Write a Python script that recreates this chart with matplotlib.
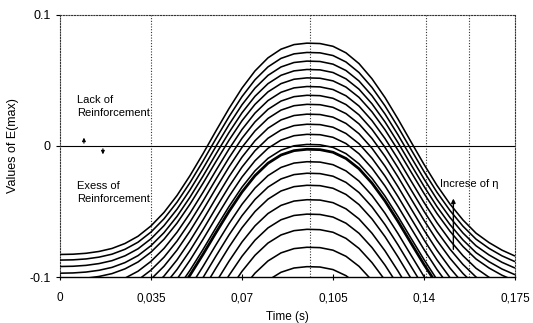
import numpy as np
import matplotlib
matplotlib.use("Agg")
import matplotlib.pyplot as plt

plt.rcParams['font.family'] = ['Liberation Sans', 'DejaVu Sans']

# time samples (s) and the uppermost curve
time = [0.000, 0.005, 0.010, 0.015, 0.020, 0.025, 0.030, 0.035, 0.040,
        0.045, 0.050, 0.055, 0.060, 0.065, 0.070, 0.075, 0.080, 0.085,
        0.090, 0.095, 0.100, 0.105, 0.110, 0.115, 0.120, 0.125, 0.130,
        0.135, 0.140, 0.145, 0.150, 0.155, 0.160, 0.165, 0.170, 0.175]
top_curve = [-0.0828, -0.0826, -0.0819, -0.0805, -0.0782, -0.0744, -0.0689,
             -0.0610, -0.0507, -0.0378, -0.0226, -0.0059, 0.0116, 0.0286,
             0.0442, 0.0573, 0.0673, 0.0739, 0.0774, 0.0785, 0.0782, 0.0761,
             0.0711, 0.0629, 0.0513, 0.0370, 0.0206, 0.0032, -0.0140, -0.0301,
             -0.0443, -0.0565, -0.0665, -0.0737, -0.0795, -0.0840]

# peak value and far-end level of every curve (top to bottom)
peaks = [0.0785, 0.0714, 0.0648, 0.0584, 0.0520, 0.0454, 0.0387, 0.0318,
         0.0243, 0.0166, 0.0089, 0.0012, -0.0025, -0.0120, -0.0208, -0.0300,
         -0.0410, -0.0520, -0.0636, -0.0773, -0.0921]
bases = [-0.0825, -0.0868, -0.0917, -0.0968, -0.1015, -0.1086, -0.1153,
         -0.1222, -0.1297, -0.1369, -0.1441, -0.1518, -0.1555, -0.1645,
         -0.1728, -0.1820, -0.1925, -0.2030, -0.2141, -0.2273, -0.2421]
thick_curve = 12

xticks = [0, 0.035, 0.07, 0.105, 0.14, 0.175]
xticklabels = ['0', '0,035', '0,07', '0,105', '0,14', '0,175']
yticks = [-0.1, 0, 0.1]
yticklabels = ['-0.1', '0', '0.1']
vlines = [0.035, 0.0963, 0.1406, 0.1575]

t = np.array(time)
top = np.array(top_curve)
shape = (top - bases[0]) / (peaks[0] - bases[0])

fig = plt.figure(figsize=(5.33, 3.23), dpi=100)
ax = fig.add_axes([0.1126, 0.1424, 0.8536, 0.8112])

for k, (p, b) in enumerate(zip(peaks, bases)):
    y = b + (p - b) * shape
    ax.plot(t, y, color='black', lw=2.0 if k == thick_curve else 1.15,
            solid_capstyle='butt', zorder=3)

for v in vlines:
    ax.axvline(v, color='#333333', lw=0.8, ls=(0, (1, 1.5)), zorder=1)
ax.axhline(0, color='black', lw=0.8, zorder=2)

ax.set_xlim(0, 0.175)
ax.set_ylim(-0.1, 0.1)
ax.set_xticks(xticks)
ax.set_xticklabels(xticklabels)
ax.set_yticks(yticks)
ax.set_yticklabels(yticklabels)
ax.tick_params(axis='x', direction='inout', length=4, width=0.8, labelsize=8.5, pad=9)
ax.tick_params(axis='y', direction='out', length=3, width=0.8, labelsize=9)

for side in ['top', 'right', 'left']:
    ax.spines[side].set_linestyle((0, (1, 1.5)))
    ax.spines[side].set_linewidth(0.8)
    ax.spines[side].set_color('#333333')
ax.spines['bottom'].set_linewidth(1.0)

ax.set_xlabel('Time (s)', fontsize=8.5, labelpad=5)
ax.set_ylabel('Values of E(max)', fontsize=9, labelpad=8)

ax.text(0.0065, 0.030, 'Lack of\nReinforcement', fontsize=8, va='center', ha='left',
        linespacing=1.3)
ax.text(0.0065, -0.0355, 'Exess of\nReinforcement', fontsize=8, va='center', ha='left',
        linespacing=1.3)
ax.annotate('', xy=(0.0092, 0.0085), xytext=(0.0092, 0),
            arrowprops=dict(arrowstyle='-|>', color='black', lw=0.8, mutation_scale=5))
ax.annotate('', xy=(0.0165, -0.0085), xytext=(0.0165, 0),
            arrowprops=dict(arrowstyle='-|>', color='black', lw=0.8, mutation_scale=5))
ax.text(0.1460, -0.029, 'Increse of η', fontsize=8, va='center', ha='left')
ax.annotate('', xy=(0.1513, -0.038), xytext=(0.1513, -0.081),
            arrowprops=dict(arrowstyle='-|>', color='black', lw=1.0, mutation_scale=6))

fig.savefig('out.png', dpi=100)
